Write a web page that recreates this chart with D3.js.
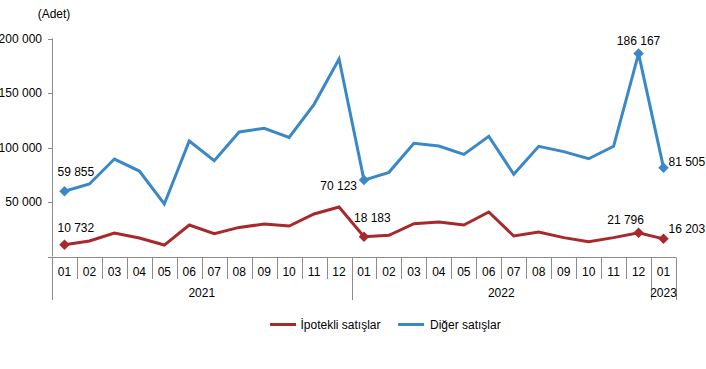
<!DOCTYPE html>
<html><head><meta charset="utf-8">
<script src="https://cdn.jsdelivr.net/npm/d3@7"></script>
<style>body{margin:0;background:#fff}text{font-family:"Liberation Sans",Arial,sans-serif}</style>
</head><body><svg id="c" width="706" height="369"></svg>
<script>
const months = ["01","02","03","04","05","06","07","08","09","10","11","12","01","02","03","04","05","06","07","08","09","10","11","12","01"];
const years = [{label:"2021",start:0,end:12},{label:"2022",start:12,end:24},{label:"2023",start:24,end:25}];
const ipotekli = [10732,14200,21600,17000,10500,28900,20900,26700,29800,28000,39000,45400,18183,19400,30100,31600,28900,40800,18800,22500,17300,13600,17300,21796,16203];
const diger = [59855,66500,89400,78400,48200,106000,87900,114200,117600,109300,139600,181200,70123,77200,103800,101400,93700,110200,75400,101100,96200,89700,101100,186167,81505];
const yTicks = [50000,100000,150000,200000];
const markedIdx = [0,12,23,24];
const seriesNames = ["İpotekli satışlar","Diğer satışlar"];
const colors = ["#A8282C","#3A88C8"];

const svg = d3.select("#c");
const fmt = v => d3.format(",")(v).replace(/,/g," ");
const x = d3.scaleBand().domain(d3.range(months.length)).range([52,676]);
const y = d3.scaleLinear().domain([0,200000]).range([256.5,38.5]);
const axisColor = "#8c8c8c";

// y axis
svg.append("line").attr("x1",52.5).attr("x2",52.5).attr("y1",y(200000)).attr("y2",y(0)).attr("stroke",axisColor);
[0,...yTicks].forEach(t=>{
  svg.append("line").attr("x1",48).attr("x2",52.5).attr("y1",Math.round(y(t))+0.5).attr("y2",Math.round(y(t))+0.5).attr("stroke",axisColor);
});
yTicks.forEach(t=>{
  svg.append("text").attr("x",42).attr("y",y(t)).attr("dy","0.35em").attr("text-anchor","end").attr("font-size",12).text(fmt(t));
});
svg.append("text").attr("x",54).attr("y",14).attr("dy","0.35em").attr("text-anchor","middle").attr("font-size",12).text("(Adet)");

// x axis
const y0 = Math.round(y(0))+0.5;
svg.append("line").attr("x1",52).attr("x2",676).attr("y1",y0).attr("y2",y0).attr("stroke",axisColor);
months.forEach((m,i)=>{
  const xl = Math.round(x(i))+0.5;
  svg.append("line").attr("x1",xl).attr("x2",xl).attr("y1",y0).attr("y2",279).attr("stroke",axisColor);
  svg.append("text").attr("x",x(i)+x.bandwidth()/2).attr("y",271.5).attr("dy","0.35em").attr("text-anchor","middle").attr("font-size",12).text(m);
});
const xr = 676.5;
svg.append("line").attr("x1",xr).attr("x2",xr).attr("y1",y0).attr("y2",300).attr("stroke",axisColor);
years.forEach(yr=>{
  const xl = Math.round(x(yr.start))+0.5;
  svg.append("line").attr("x1",xl).attr("x2",xl).attr("y1",y0).attr("y2",300).attr("stroke",axisColor);
  const xe = yr.end<months.length ? x(yr.end) : 676;
  svg.append("text").attr("x",(x(yr.start)+xe)/2).attr("y",292.5).attr("dy","0.35em").attr("text-anchor","middle").attr("font-size",12).text(yr.label);
});

// lines
const cx = i => x(i)+x.bandwidth()/2;
const line = d3.line().x((d,i)=>cx(i)).y(d=>y(d));
[ipotekli,diger].forEach((s,k)=>{
  svg.append("path").attr("d",line(s)).attr("fill","none").attr("stroke",colors[k]).attr("stroke-width",3).attr("stroke-linejoin","miter");
  markedIdx.forEach(i=>{
    svg.append("path").attr("d",d3.symbol(d3.symbolDiamond2,70)()).attr("transform",`translate(${cx(i)},${y(s[i])})`).attr("fill",colors[k]);
  });
});

// labels
const lab = (s,i,dx,dy,anchor)=>svg.append("text").attr("x",cx(i)+dx).attr("y",y(s[i])+dy).attr("dy","0.35em").attr("text-anchor",anchor).attr("font-size",12).text(fmt(s[i]));
lab(diger,0,-7,-19,"start");
lab(ipotekli,0,-7,-17,"start");
lab(diger,12,-7,6,"end");
lab(ipotekli,12,-10,-19,"start");
lab(diger,23,0,-13,"middle");
lab(diger,24,5,-6,"start");
lab(ipotekli,23,-13,-13,"middle");
lab(ipotekli,24,5,-10,"start");

// legend
const leg = [[270,300.5],[398,430]];
leg.forEach((p,k)=>{
  svg.append("line").attr("x1",p[0]).attr("x2",p[0]+26).attr("y1",324.5).attr("y2",324.5).attr("stroke",colors[k]).attr("stroke-width",3);
  svg.append("text").attr("x",p[1]).attr("y",324.5).attr("dy","0.35em").attr("font-size",12).text(seriesNames[k]);
});
</script></body></html>
